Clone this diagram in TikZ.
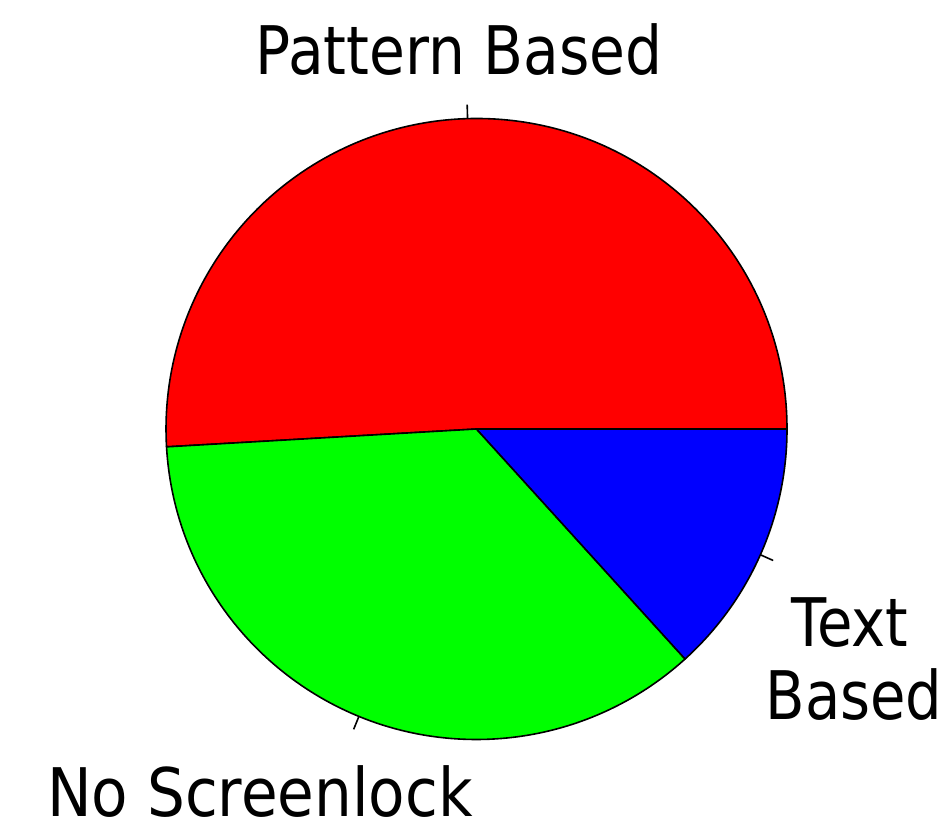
\documentclass[tikz,border=0pt]{standalone}
\usepackage{fontspec}
\setmainfont{DejaVu Sans}
\usepackage{graphicx}
\begin{document}
\begin{tikzpicture}[x=1pt,y=1pt,
  slice/.style={draw=black, line width=1.6pt, line join=round},
  tickmark/.style={draw=black, line width=1.6pt},
  lab/.style={font=\fontsize{67}{73}\selectfont, inner sep=0pt, anchor=base}]
\useasboundingbox (0,0) rectangle (947,834);
\def\R{310.5}
\coordinate (c) at (476.5,405);
% slices
\filldraw[slice, fill=red] (c) -- ++(0:\R) arc[start angle=0, end angle=183.3, radius=\R] -- cycle;
\filldraw[slice, fill=green] (c) -- ++(183.3:\R) arc[start angle=183.3, end angle=312.2, radius=\R] -- cycle;
\filldraw[slice, fill=blue] (c) -- ++(312.2:\R) arc[start angle=312.2, end angle=360, radius=\R] -- cycle;
% ticks
\path (c) ++(91.65:\R) coordinate (p1a) ++(91.65:14) coordinate (p1b);
\path (c) ++(247.75:\R) coordinate (p2a) ++(247.75:14) coordinate (p2b);
\path (c) ++(336.1:\R) coordinate (p3a) ++(336.1:14) coordinate (p3b);
\draw[tickmark] (p1a) -- (p1b);
\draw[tickmark] (p2a) -- (p2b);
\draw[tickmark] (p3a) -- (p3b);
% labels
\node[lab] (pattern) at (459,759) {\scalebox{0.87}[1]{Pattern Based}};
\node[lab] (noscreen) at (260,17) {\scalebox{0.89}[1]{No Screenlock}};
\node[lab] (text1) at (850,187) {\scalebox{0.86}[1]{Text}};
\node[lab] (text2) at (854,114) {\scalebox{0.86}[1]{Based}};
\end{tikzpicture}
\end{document}
